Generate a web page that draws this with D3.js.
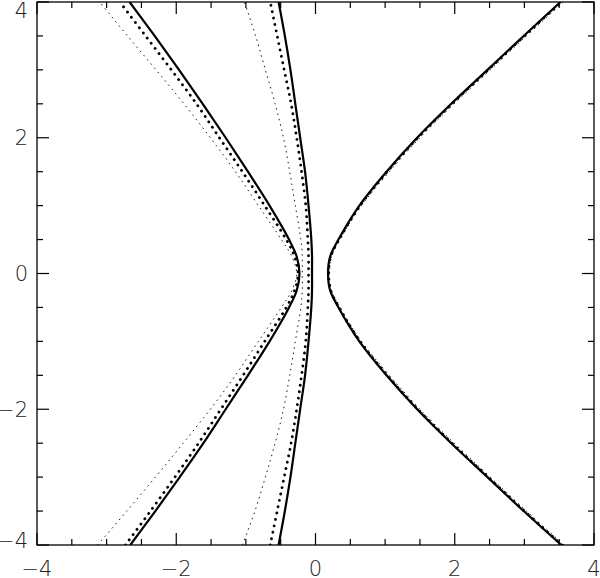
<html>
<head>
<script src="https://d3js.org/d3.v7.min.js"></script>
<style>
  body { margin: 0; background: #fff; }
  text { font-family: "DejaVu Sans", sans-serif; font-weight: 200; font-size: 21px; fill: #222; }
</style>
</head>
<body>
<div class="viz"></div>
<script>
var width = 600, height = 578;

var yLevels = [-4, -3.5, -3, -2.5, -2, -1.5, -1, -0.5, -0.25, 0, 0.25, 0.5, 1, 1.5, 2, 2.5, 3, 3.5, 4];

// left branches
var leftSolid  = [-2.66, -2.3, -1.95, -1.61, -1.29, -0.97, -0.66, -0.38, -0.27, -0.23, -0.27, -0.38, -0.66, -0.97, -1.29, -1.62, -1.96, -2.31, -2.67];
var leftThick  = [-2.73, -2.37, -2.02, -1.68, -1.36, -1.04, -0.73, -0.42, -0.3, -0.25, -0.3, -0.42, -0.73, -1.05, -1.38, -1.71, -2.07, -2.44, -2.81];
var leftThin   = [-3.13, -2.71, -2.3, -1.9, -1.51, -1.15, -0.82, -0.49, -0.34, -0.27, -0.34, -0.49, -0.82, -1.15, -1.51, -1.89, -2.29, -2.7, -3.1];
// middle (nearly vertical) branches
var midSolid   = [-0.53, -0.44, -0.36, -0.29, -0.22, -0.15, -0.1, -0.06, -0.05, -0.05, -0.05, -0.06, -0.1, -0.15, -0.22, -0.29, -0.36, -0.44, -0.53];
var midThick   = [-0.65, -0.55, -0.45, -0.35, -0.27, -0.2, -0.14, -0.11, -0.1, -0.1, -0.1, -0.11, -0.14, -0.2, -0.27, -0.35, -0.45, -0.55, -0.65];
var midThin    = [-1.05, -0.87, -0.72, -0.58, -0.46, -0.37, -0.29, -0.21, -0.19, -0.19, -0.19, -0.21, -0.29, -0.37, -0.46, -0.58, -0.72, -0.86, -1.02];
// right branches
var rightSolid = [3.53, 2.99, 2.47, 1.95, 1.46, 1.02, 0.63, 0.33, 0.21, 0.18, 0.21, 0.33, 0.63, 1.02, 1.46, 1.95, 2.47, 2.99, 3.52];
var rightThick = [3.54, 3.0, 2.48, 1.96, 1.47, 1.03, 0.64, 0.34, 0.22, 0.19, 0.22, 0.34, 0.64, 1.03, 1.47, 1.96, 2.48, 3.0, 3.53];
var rightThin  = [3.57, 3.03, 2.51, 1.99, 1.5, 1.06, 0.66, 0.35, 0.23, 0.2, 0.23, 0.35, 0.66, 1.06, 1.5, 1.99, 2.51, 3.03, 3.56];

var majorTicks = [-4, -2, 0, 2, 4];
var minorTicks = [-3.5, -3, -2.5, -1.5, -1, -0.5, 0.5, 1, 1.5, 2.5, 3, 3.5];
var tickLabels = ["\u22124", "\u22122", "0", "2", "4"];

var plotL = 37, plotR = 594, plotT = 2, plotB = 545;

var x = d3.scaleLinear().domain([-4, 4]).range([plotL, plotR]);
var y = d3.scaleLinear().domain([-4, 4]).range([plotB, plotT]);

var svg = d3.select(".viz").append("svg")
    .attr("width", width)
    .attr("height", height);

svg.append("defs").append("clipPath").attr("id", "plot")
    .append("rect")
    .attr("x", plotL).attr("y", plotT)
    .attr("width", plotR - plotL).attr("height", plotB - plotT);

var styles = {
    solid: {w: 2.2, dash: null, cap: "butt"},
    thick: {w: 2.8, dash: "0.1,6.4", cap: "round"},
    thin:  {w: 0.9, dash: "1.5,4", cap: "butt"}
};

var curves = [
    {xs: leftThin, s: "thin"}, {xs: midThin, s: "thin"}, {xs: rightThin, s: "thin"},
    {xs: leftThick, s: "thick"}, {xs: midThick, s: "thick"}, {xs: rightThick, s: "thick"},
    {xs: leftSolid, s: "solid"}, {xs: midSolid, s: "solid"}, {xs: rightSolid, s: "solid"}
];

var line = d3.line()
    .x(function(d){ return x(d[0]); })
    .y(function(d){ return y(d[1]); })
    .curve(d3.curveCatmullRom);

svg.append("g").attr("clip-path", "url(#plot)")
    .selectAll("path")
    .data(curves)
    .enter()
    .append("path")
    .attr("d", function(c){ return line(c.xs.map(function(v, i){ return [v, yLevels[i]]; })); })
    .attr("fill", "none")
    .attr("stroke", "#000")
    .attr("stroke-width", function(c){ return styles[c.s].w; })
    .attr("stroke-dasharray", function(c){ return styles[c.s].dash; })
    .attr("stroke-linecap", function(c){ return styles[c.s].cap; });

// frame
svg.append("rect")
    .attr("x", plotL).attr("y", plotT)
    .attr("width", plotR - plotL).attr("height", plotB - plotT)
    .attr("fill", "none").attr("stroke", "#000").attr("stroke-width", 1.3);

// ticks on all four sides, pointing inward
function ticks(vals, len) {
    var g = svg.append("g").attr("stroke", "#000").attr("stroke-width", 1.2);
    vals.forEach(function(v){
        g.append("line").attr("x1", x(v)).attr("x2", x(v)).attr("y1", plotB).attr("y2", plotB - len);
        g.append("line").attr("x1", x(v)).attr("x2", x(v)).attr("y1", plotT).attr("y2", plotT + len);
        g.append("line").attr("y1", y(v)).attr("y2", y(v)).attr("x1", plotL).attr("x2", plotL + len);
        g.append("line").attr("y1", y(v)).attr("y2", y(v)).attr("x1", plotR).attr("x2", plotR - len);
    });
}
ticks(majorTicks, 12);
ticks(minorTicks, 6);

// labels
svg.selectAll("text.xl")
    .data(majorTicks)
    .enter().append("text")
    .attr("class", "xl")
    .attr("x", function(d){ return x(d); })
    .attr("y", 576)
    .attr("text-anchor", "middle")
    .text(function(d, i){ return tickLabels[i]; });

svg.selectAll("text.yl")
    .data(majorTicks)
    .enter().append("text")
    .attr("class", "yl")
    .attr("x", 28)
    .attr("y", function(d){ return Math.min(Math.max(y(d), 10), 540); })
    .attr("dy", "0.36em")
    .attr("text-anchor", "end")
    .text(function(d, i){ return tickLabels[i]; });
</script>
</body>
</html>
